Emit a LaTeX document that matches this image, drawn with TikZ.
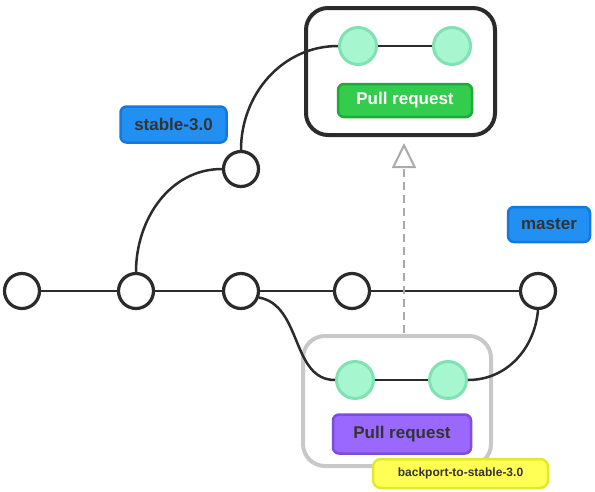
\documentclass[tikz,border=0pt]{standalone}
\usepackage{fontspec}
\setmainfont{Liberation Sans}
\usetikzlibrary{arrows.meta}
\definecolor{txt}{HTML}{333333}
\definecolor{bluef}{HTML}{2190F2}
\definecolor{blueb}{HTML}{1479DF}
\definecolor{greenf}{HTML}{33CC4D}
\definecolor{greenb}{HTML}{1FAA35}
\definecolor{purpf}{HTML}{9A68FF}
\definecolor{purpb}{HTML}{7A4FE0}
\definecolor{yelf}{HTML}{FFFF55}
\definecolor{yelb}{HTML}{E6E62E}
\definecolor{mintf}{HTML}{A6F7D0}
\definecolor{mintb}{HTML}{80E2B2}
\definecolor{linec}{HTML}{2B2B2B}
\definecolor{grayb}{HTML}{C8C8C8}
\definecolor{dashc}{HTML}{AAAAAA}
\begin{document}
\begin{tikzpicture}[x=1pt,y=-1pt,
  commit/.style={circle,draw=linec,line width=3.2pt,fill=white,minimum size=35pt,inner sep=0pt},
  prcommit/.style={circle,draw=mintb,line width=3pt,fill=mintf,minimum size=37pt,inner sep=0pt},
  edge/.style={draw=linec,line width=2.5pt},
  tag/.style={rounded corners=6pt,line width=2.5pt,font=\bfseries\fontsize{17}{20}\selectfont,text=txt,inner sep=0pt},
  prbox/.style={rounded corners=22pt,line width=4pt}]
\useasboundingbox (0,0) rectangle (595,491);
% boxes
\node[prbox,draw=linec,minimum width=189pt,minimum height=127pt] (prtop) at (400.5,71.5) {};
\node[prbox,draw=grayb,minimum width=188pt,minimum height=130pt] (prbot) at (397,401) {};
% commits
\node[commit] (c1) at (22,291) {};
\node[commit] (c2) at (136,291) {};
\node[commit] (c3) at (241,291) {};
\node[commit] (c4) at (352,291) {};
\node[commit] (c5) at (538,291) {};
\node[commit] (s1) at (241,169) {};
\node[prcommit] (g1) at (358,46) {};
\node[prcommit] (g2) at (452,46) {};
\node[prcommit] (h1) at (355,380) {};
\node[prcommit] (h2) at (448,380) {};
% labels
\node[tag,fill=bluef,draw=blueb,minimum width=106pt,minimum height=36pt] (lstable) at (173.5,124.5) {stable-3.0};
\node[tag,fill=bluef,draw=blueb,minimum width=82pt,minimum height=35pt] (lmaster) at (549,224.5) {master};
\node[tag,fill=greenf,draw=greenb,text=white,minimum width=134pt,minimum height=33pt] (lprg) at (405,100.5) {Pull request};
\node[tag,fill=purpf,draw=purpb,minimum width=138pt,minimum height=39pt] (lprp) at (402,434) {Pull request};
\node[tag,fill=yelf,draw=yelb,rounded corners=8pt,font=\bfseries\fontsize{12}{14}\selectfont,minimum width=175pt,minimum height=29pt] (lback) at (460.5,473.5) {backport-to-stable-3.0};
% edges
\draw[edge] (c1) -- (c2);
\draw[edge] (c2) -- (c3);
\draw[edge] (c3) -- (c4);
\draw[edge] (c4) -- (c5);
\draw[edge] (c2.north) to[out=90,in=180] (s1.west);
\draw[edge] (s1.north) to[out=90,in=180] (g1.west);
\draw[edge] (g1) -- (g2);
\draw[edge] (c3.-20) to[out=-10,in=180] (h1.west);
\draw[edge] (h1) -- (h2);
\draw[edge] (h2.east) to[out=0,in=-95] (c5.south);
% dashed arrow
\coordinate (dstart) at (404,333);
\coordinate (dend) at (404,143);
\draw[draw=dashc,line width=2pt,dash pattern=on 8pt off 5pt,
  -{Triangle[open,length=25pt,width=24pt,line width=2pt]}] (dstart) -- (dend);
\end{tikzpicture}
\end{document}
